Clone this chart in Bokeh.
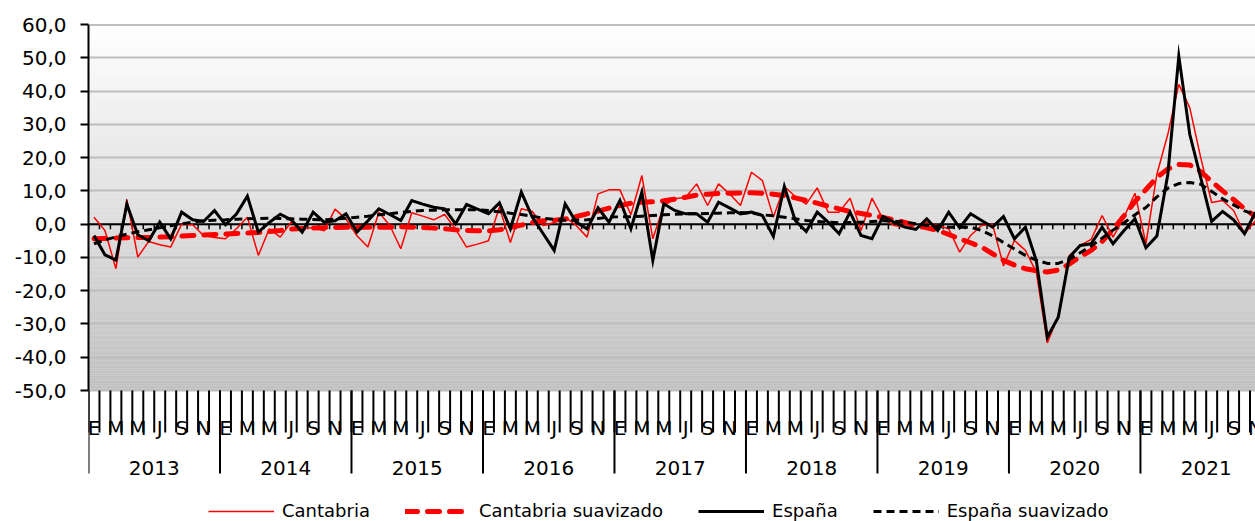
import numpy as np
from bokeh.plotting import figure
from bokeh.models import (Range1d, LinearAxis, FixedTicker, CustomJSTickFormatter,
                          Span, Legend, LegendItem, Grid)
from bokeh.core.properties import value
from bokeh.embed import file_html
from bokeh.resources import INLINE

# ---------------- data ----------------
month_letters = ["E", "F", "M", "A", "M", "J", "J", "A", "S", "O", "N", "D"]
years = ["2013", "2014", "2015", "2016", "2017", "2018", "2019", "2020", "2021"]
y_ticks = [-50, -40, -30, -20, -10, 0, 10, 20, 30, 40, 50, 60]

cantabria = [
    2.1, -1.9, -13.4, 7.4, -9.9, -5.2, -6.2, -6.9, 0.0, -0.2, -3.4, -4.0,
    -4.4, -1.4, 2.1, -9.4, -1.4, -3.9, 0.6, -1.4, -1.0, -2.0, 4.5, 1.5,
    -3.5, -6.9, 3.6, -0.4, -7.4, 3.4, 2.4, 1.3, 2.9, -1.5, -6.9, -6.0,
    -5.0, 5.1, -5.5, 4.6, 3.8, -0.4, 0.5, 2.1, -0.4, -3.9, 9.1, 10.3,
    10.3, 2.8, 14.6, -4.4, 5.6, 7.6, 8.1, 12.1, 5.6, 12.1, 9.1, 5.6,
    15.6, 13.1, 2.1, 11.3, 8.3, 6.0, 10.9, 3.6, 3.6, 7.8, -1.9, 7.8,
    1.6, -0.4, -0.9, -1.4, 0.6, -0.4, -1.4, -8.4, -3.4, -0.4, 0.0, -12.6,
    -4.9, -7.9, -14.5, -35.7, -27.5, -9.5, -6.4, -4.6, 2.6, -3.9, 2.1, 9.3,
    -5.9, 15.0, 27.0, 42.0, 35.0, 20.0, 6.5, 7.1, 4.1, -2.9, 1.0,
]

cantabria_suav = [
    -4.4, -4.3, -4.2, -4.1, -4.0, -4.0, -3.9, -3.8, -3.6, -3.4, -3.3, -3.1,
    -3.0, -2.8, -2.7, -2.5, -2.2, -1.9, -1.5, -1.3, -1.2, -1.1, -1.0, -0.9,
    -0.9, -0.9, -0.9, -0.9, -0.8, -0.9, -1.0, -1.2, -1.4, -1.7, -1.9, -2.0,
    -2.0, -1.7, -1.0, -0.3, 0.5, 1.0, 1.2, 1.5, 2.3, 3.1, 3.9, 4.8,
    5.6, 6.3, 6.6, 6.7, 7.0, 7.5, 8.1, 8.7, 9.0, 9.2, 9.3, 9.4,
    9.4, 9.3, 9.0, 8.6, 7.9, 7.1, 6.3, 5.4, 4.6, 3.8, 3.2, 2.6,
    2.0, 1.3, 0.5, -0.4, -1.1, -1.9, -3.1, -4.4, -5.6, -6.9, -8.9, -10.9,
    -12.3, -13.4, -14.0, -14.4, -13.8, -12.0, -9.8, -7.9, -5.2, -1.6, 2.5, 6.8,
    10.4, 14.0, 16.6, 17.9, 17.8, 15.8, 12.8, 10.0, 7.4, 4.6, 2.3,
]

espana = [
    -3.4, -9.2, -10.8, 6.0, -3.2, -5.0, 0.6, -4.4, 3.6, 1.3, 0.8, 4.1,
    -0.2, 3.0, 8.4, -2.4, 0.5, 3.0, 1.3, -2.4, 3.6, 0.6, 1.0, 3.1,
    -2.4, 1.0, 4.6, 2.9, 1.1, 7.1, 6.0, 5.1, 4.6, 0.1, 5.9, 4.5,
    3.1, 6.4, -1.4, 9.6, 2.1, -2.9, -7.9, 6.1, 0.6, -1.4, 4.9, 0.6,
    7.1, -1.4, 9.6, -10.9, 6.1, 4.1, 3.1, 3.1, 0.6, 6.6, 4.9, 3.1,
    3.6, 2.6, -3.7, 11.3, 1.1, -2.2, 3.6, 0.6, -2.9, 3.6, -3.4, -4.4,
    2.3, 0.6, -0.9, -1.6, 1.6, -1.9, 3.6, -1.1, 3.1, 1.1, -0.9, 2.3,
    -4.4, -0.9, -11.0, -34.0, -28.0, -10.0, -6.4, -5.9, -0.9, -5.9, -1.9, 1.6,
    -7.1, -3.6, 15.0, 50.5, 27.0, 14.0, 0.8, 3.8, 1.3, -2.9, 3.6,
]

espana_suav = [
    -5.9, -4.8, -3.8, -3.0, -2.3, -1.7, -1.1, -0.5, 0.1, 0.6, 1.0, 1.2,
    1.3, 1.5, 1.6, 1.7, 1.8, 1.7, 1.6, 1.5, 1.4, 1.3, 1.5, 1.8,
    2.1, 2.4, 2.8, 3.1, 3.5, 3.8, 4.1, 4.2, 4.3, 4.3, 4.3, 4.3,
    4.1, 3.7, 3.3, 2.9, 2.4, 1.8, 1.4, 1.2, 1.2, 1.3, 1.7, 2.1,
    2.2, 2.2, 2.4, 2.6, 2.8, 3.0, 3.1, 3.1, 3.2, 3.3, 3.4, 3.5,
    3.3, 2.8, 2.5, 2.1, 1.6, 1.1, 0.8, 0.6, 0.4, 0.5, 0.6, 0.8,
    1.0, 0.9, 0.6, 0.1, -0.4, -0.7, -0.9, -0.9, -0.9, -1.9, -3.5, -5.5,
    -7.5, -9.4, -10.8, -11.8, -11.8, -10.6, -8.6, -6.6, -4.2, -1.8, 0.4, 2.8,
    5.0, 8.2, 10.8, 12.2, 12.5, 12.0, 9.8, 7.6, 5.8, 4.0, 2.8,
]

# ---------------- layout constants ----------------
n_months = len(years) * 12
x_end = 106.5
y_top, y_bot = 60.0, -50.0
frame_top_px, plot_bottom_px = 24, 390          # plotting area in page pixels
fig_h = 521
ppu = (plot_bottom_px - frame_top_px) / (y_top - y_bot)    # pixels per unit
y_start = y_top - (fig_h - frame_top_px) / ppu              # frame extends to canvas bottom

def px_to_y(py):
    return y_top - (py - frame_top_px) / ppu

p = figure(width=1255, height=fig_h, x_range=Range1d(0, x_end), y_range=Range1d(y_start, y_top),
           output_backend="svg", toolbar_location=None, title=None,
           x_axis_type=None, y_axis_type=None,
           min_border_left=88, min_border_right=0, min_border_top=frame_top_px, min_border_bottom=0)
p.background_fill_color = "white"
p.border_fill_color = "white"
p.outline_line_color = None

font = "DejaVu Sans"

# vertical gradient background of the plotting area only
b = np.arange(y_bot, y_top, 0.5)
shade = (255 - (y_top - (b + 0.25)) * 63.0 / (y_top - y_bot)).round().astype(int)
cols = ["#%02x%02x%02x" % (s, s, s) for s in shade]
top_b = np.minimum(b + 0.6, y_top)
p.quad(left=-5, right=200, bottom=b, top=top_b, fill_color=cols, line_color=None, level="image")

p.add_layout(Grid(dimension=1, ticker=FixedTicker(ticks=y_ticks[:-1]),
                  grid_line_color="#bdbdbd", grid_line_width=2))
p.add_layout(Span(location=y_top, dimension="width", line_color="#808080", line_width=2))
p.add_layout(Span(location=0, dimension="width", line_color="black", line_width=2, level="underlay"))

yaxis = LinearAxis(ticker=FixedTicker(ticks=y_ticks), bounds=(y_bot, y_top),
                   formatter=CustomJSTickFormatter(code="return tick.toFixed(1).replace('.', ',');"),
                   axis_line_width=2, axis_line_color="black",
                   major_tick_out=8, major_tick_in=0, major_tick_line_width=2,
                   minor_tick_out=0, minor_tick_in=0,
                   major_label_text_font=font, major_label_text_font_size="20px",
                   major_label_standoff=14, major_label_text_color="#000000")
p.add_layout(yaxis, "left")

# category axis drawn inside the frame below the plotting area
month_bounds = np.arange(0, n_months)
year_bounds = np.arange(0, n_months, 12)
p.segment(x0=month_bounds, y0=y_bot, x1=month_bounds, y1=px_to_y(432),
          line_color="black", line_width=2)
p.segment(x0=year_bounds, y0=y_bot, x1=year_bounds, y1=px_to_y(473),
          line_color="black", line_width=2)
# small ticks on the zero line
p.segment(x0=month_bounds, y0=0, x1=month_bounds, y1=-5 / ppu,
          line_color="black", line_width=1.5)

lab_months = list(range(0, n_months, 2))
p.text(x=[m + 0.5 for m in lab_months], y=[px_to_y(427)] * len(lab_months),
       text=[month_letters[m % 12] for m in lab_months],
       text_font=value(font), text_font_size="20px", text_color="black",
       text_align="center", text_baseline="alphabetic")
p.text(x=[k * 12 + 6 for k in range(len(years))], y=[px_to_y(467)] * len(years),
       text=years, text_font=value(font), text_font_size="20px", text_color="black",
       text_align="center", text_baseline="alphabetic")

def xs(series):
    return np.arange(len(series)) + 0.5

r1 = p.line(xs(cantabria), cantabria, line_color="#ff0000", line_width=1.5)
r2 = p.line(xs(cantabria_suav), cantabria_suav, line_color="#ff0000", line_width=5,
            line_dash="12 10", line_cap="round")
r3 = p.line(xs(espana), espana, line_color="black", line_width=3, line_join="miter")
r4 = p.line(xs(espana_suav), espana_suav, line_color="black", line_width=3, line_dash="8 5")

legend = Legend(items=[LegendItem(label="Cantabria", renderers=[r1]),
                       LegendItem(label="Cantabria suavizado", renderers=[r2]),
                       LegendItem(label="España", renderers=[r3]),
                       LegendItem(label="España suavizado", renderers=[r4])],
                location=(120, 0), orientation="horizontal",
                label_text_font=font, label_text_font_size="18px", label_text_color="black",
                glyph_width=66, glyph_height=20, label_standoff=8, spacing=35,
                padding=0, margin=0, border_line_color=None, background_fill_alpha=0)
p.add_layout(legend, "center")

open("out.html", "w").write(file_html(p, INLINE))
